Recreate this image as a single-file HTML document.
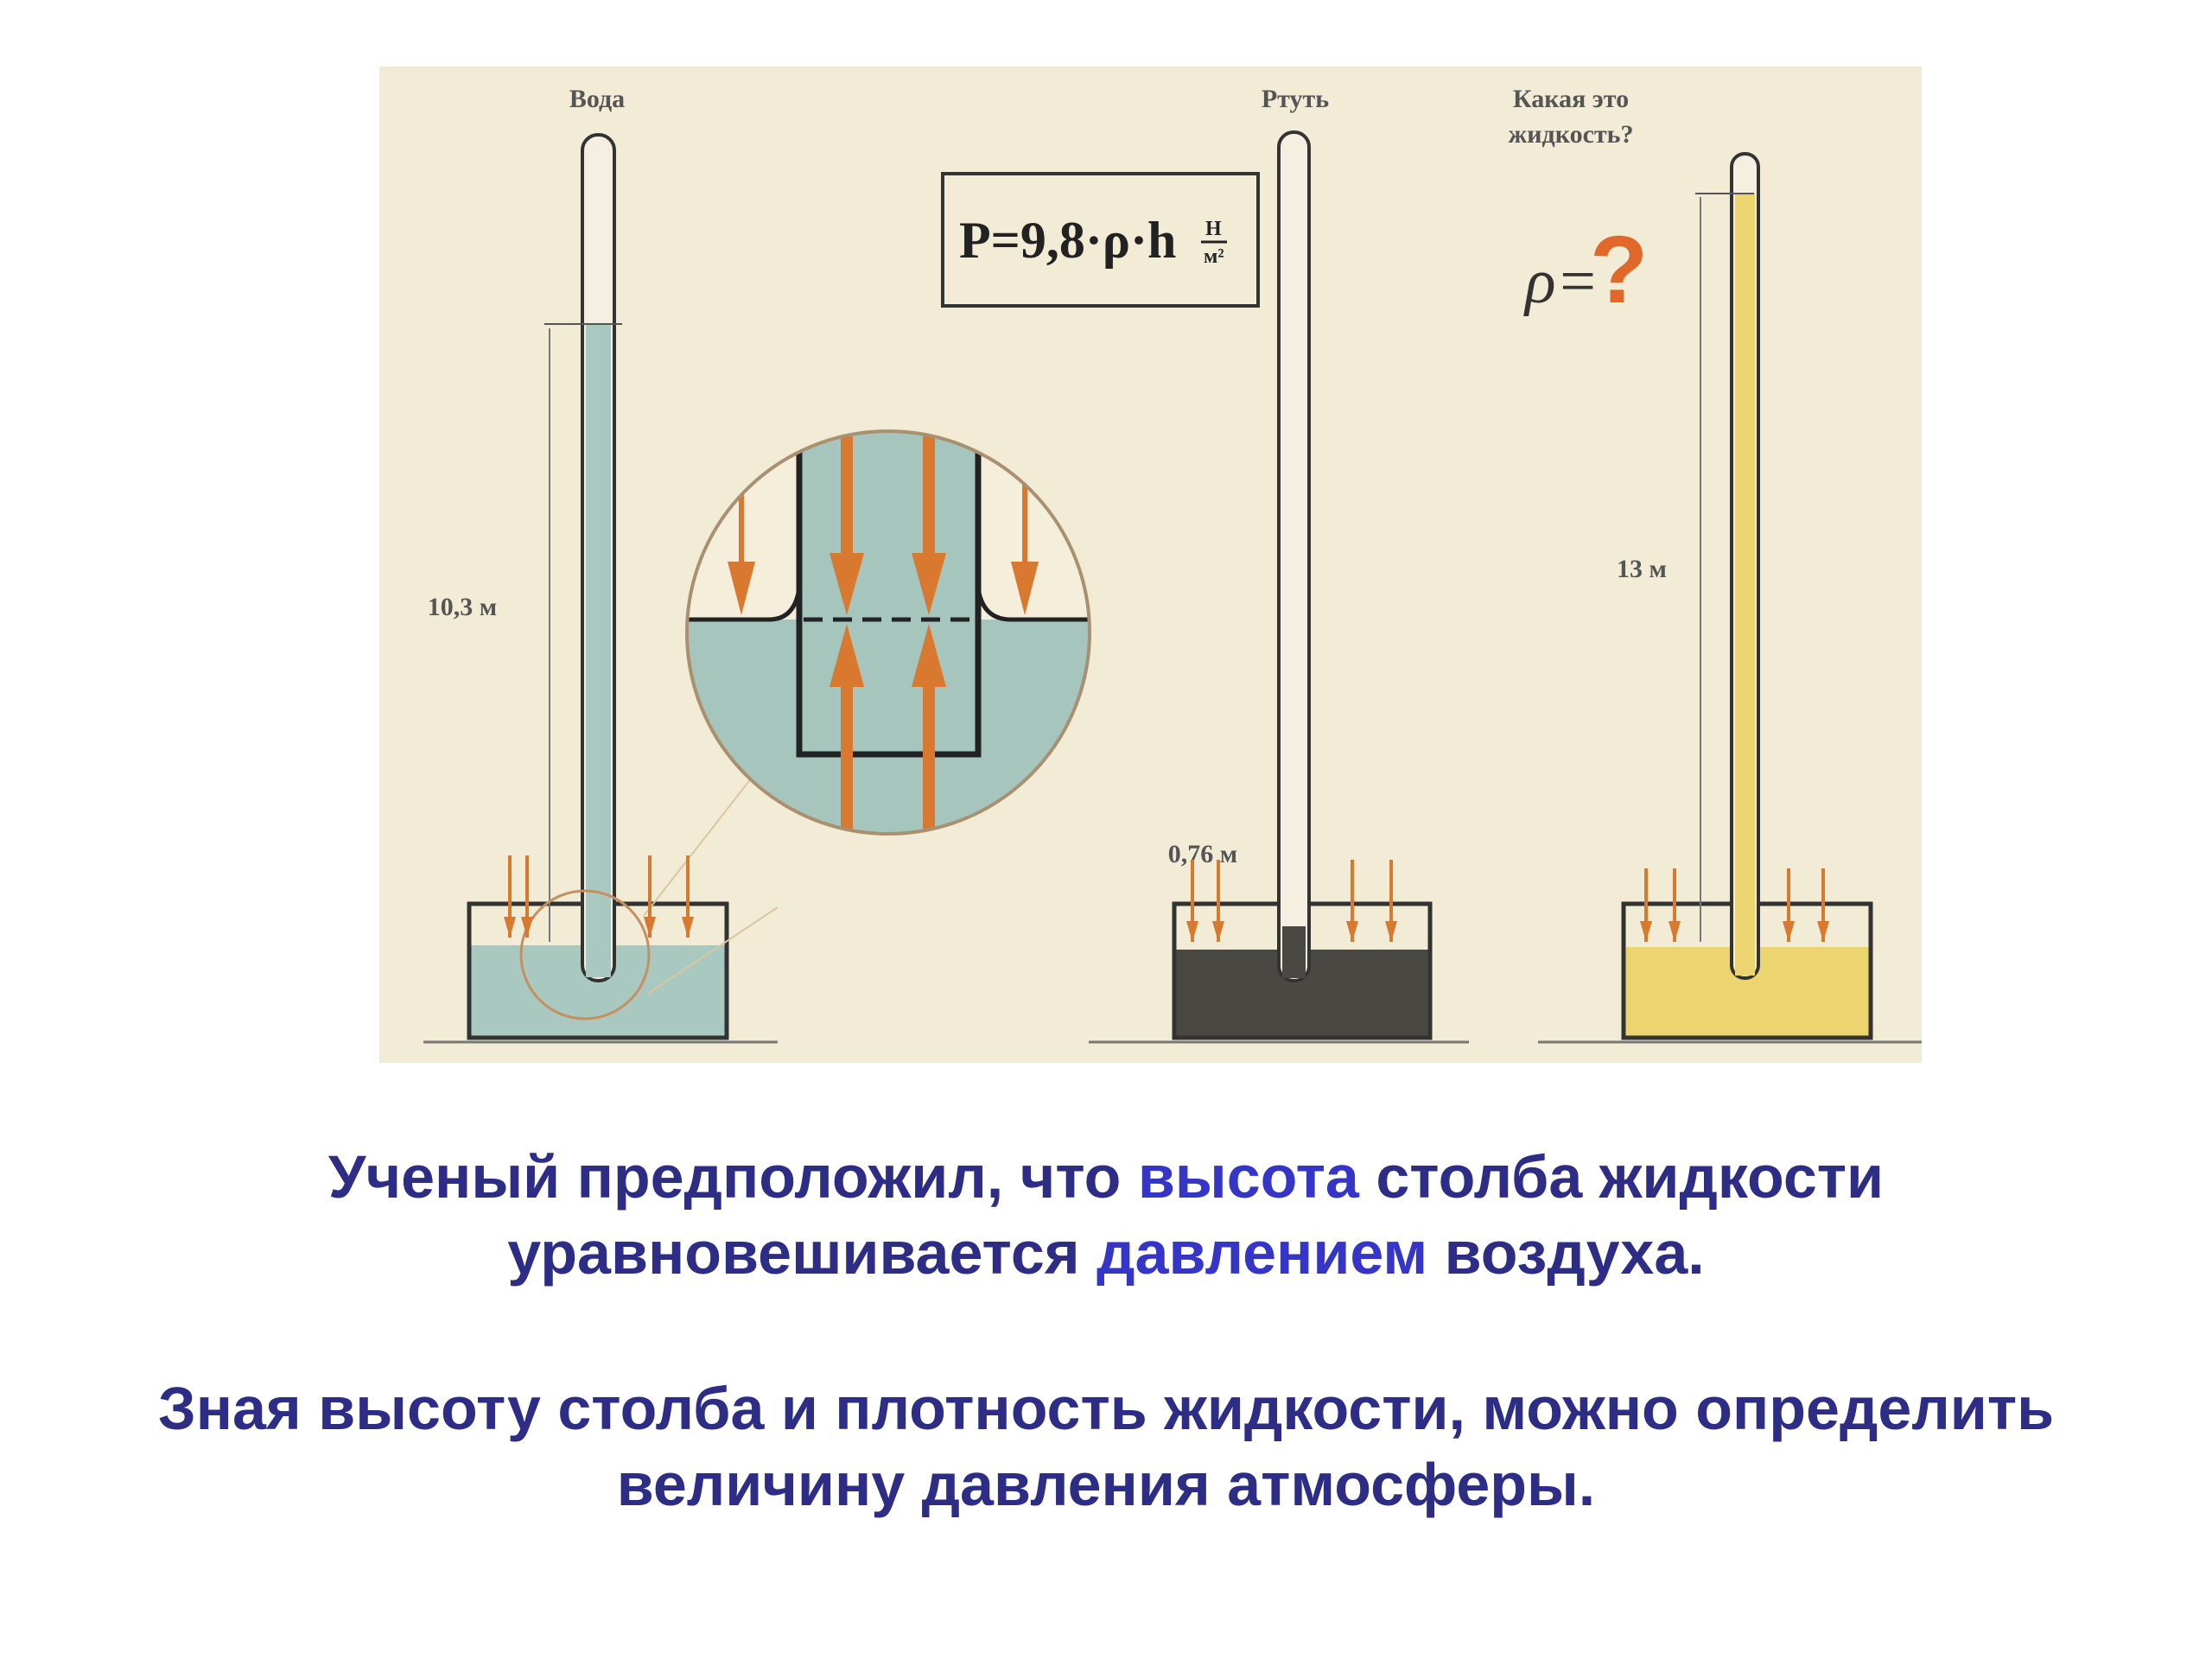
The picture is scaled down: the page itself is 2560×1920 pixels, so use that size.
<!DOCTYPE html>
<html><head><meta charset="utf-8"><style>
html,body{margin:0;padding:0;background:#fff;width:2560px;height:1920px;overflow:hidden}
svg{position:absolute;left:0;top:0}
.t{position:absolute;left:0;width:2560px;text-align:center;font-family:"Liberation Sans",Arial,sans-serif;font-weight:bold;font-size:70px;color:#2d2d86;line-height:88px}
.b{color:#3535c8}
</style></head><body>
<svg width="2560" height="1920" viewBox="0 0 2560 1920">
<defs>
<marker id="ah" markerWidth="24" markerHeight="14" refX="24" refY="7" orient="auto" markerUnits="userSpaceOnUse" viewBox="0 0 24 14"><path d="M0,0 L24,7 L0,14 Z" fill="#d9782f"/></marker>
<clipPath id="cc"><circle cx="1028" cy="732" r="233"/></clipPath>
</defs>
<rect x="439" y="77" width="1785" height="1153" fill="#f2ebd5"/>
<g font-family="Liberation Serif,serif" font-weight="bold" fill="#555" font-size="30">
<text x="691" y="124" text-anchor="middle">Вода</text>
<text x="1499" y="124" text-anchor="middle">Ртуть</text>
<text x="1818" y="124" text-anchor="middle">Какая это</text>
<text x="1818" y="165" text-anchor="middle">жидкость?</text>
<text x="535" y="712" text-anchor="middle">10,3 м</text>
<text x="1392" y="998" text-anchor="middle">0,76 м</text>
<text x="1900" y="668" text-anchor="middle">13 м</text>
</g>
<rect x="1091" y="201" width="365" height="153" fill="none" stroke="#333" stroke-width="4"/>
<text x="1110" y="298" font-family="Liberation Serif,serif" font-weight="bold" font-size="60" fill="#222">P=9,8·ρ·h</text>
<text x="1395" y="272" font-family="Liberation Serif,serif" font-weight="bold" font-size="24" fill="#222">Н</text>
<line x1="1390" y1="280" x2="1420" y2="280" stroke="#222" stroke-width="3"/>
<text x="1393" y="304" font-family="Liberation Serif,serif" font-weight="bold" font-size="24" fill="#222">м²</text>
<text x="1765" y="350" font-family="Liberation Serif,serif" font-style="italic" font-size="74" fill="#333">ρ=</text>
<text x="1840" y="350" font-family="Liberation Sans,sans-serif" font-weight="bold" font-size="110" fill="#e0682a">?</text>
<g stroke="#777" stroke-width="3">
<line x1="490" y1="1206" x2="900" y2="1206"/><line x1="1260" y1="1206" x2="1700" y2="1206"/><line x1="1780" y1="1206" x2="2224" y2="1206"/>
</g>
<rect x="543" y="1094" width="298" height="107" fill="#a8c8c0"/>
<rect x="543" y="1046" width="298" height="155" fill="none" stroke="#333" stroke-width="5"/>
<rect x="674" y="156" width="37" height="979" rx="18" fill="#f4efe0" stroke="#333" stroke-width="4"/>
<rect x="678" y="375" width="29" height="756" fill="#a8c8c0"/>
<line x1="630" y1="375" x2="720" y2="375" stroke="#555" stroke-width="2"/>
<line x1="636" y1="380" x2="636" y2="1090" stroke="#777" stroke-width="2"/>
<circle cx="677" cy="1105" r="74" fill="none" stroke="#c59060" stroke-width="3"/>
<line x1="745" y1="1060" x2="870" y2="900" stroke="#d8c8a0" stroke-width="2"/>
<line x1="750" y1="1150" x2="900" y2="1050" stroke="#d8c8a0" stroke-width="2"/>
<g stroke="#d9782f" stroke-width="4" marker-end="url(#ah)">
<line x1="590" y1="990" x2="590" y2="1085"/><line x1="610" y1="990" x2="610" y2="1085"/>
<line x1="752" y1="990" x2="752" y2="1085"/><line x1="796" y1="990" x2="796" y2="1085"/>
</g>
<rect x="1359" y="1099" width="296" height="102" fill="#4a4843"/>
<rect x="1359" y="1046" width="296" height="155" fill="none" stroke="#333" stroke-width="5"/>
<rect x="1480" y="153" width="35" height="982" rx="17" fill="#f4efe0" stroke="#333" stroke-width="4"/>
<rect x="1484" y="1072" width="27" height="60" fill="#4a4843"/>
<g stroke="#d9782f" stroke-width="4" marker-end="url(#ah)">
<line x1="1380" y1="995" x2="1380" y2="1090"/><line x1="1410" y1="995" x2="1410" y2="1090"/>
<line x1="1565" y1="995" x2="1565" y2="1090"/><line x1="1610" y1="995" x2="1610" y2="1090"/>
</g>
<rect x="1879" y="1096" width="286" height="105" fill="#ecd570"/>
<rect x="1879" y="1046" width="286" height="155" fill="none" stroke="#333" stroke-width="5"/>
<rect x="2004" y="178" width="31" height="954" rx="15" fill="#f4efe0" stroke="#333" stroke-width="4"/>
<rect x="2008" y="224" width="23" height="905" fill="#ecd570"/>
<line x1="1962" y1="224" x2="2030" y2="224" stroke="#555" stroke-width="2"/>
<line x1="1968" y1="228" x2="1968" y2="1090" stroke="#777" stroke-width="2"/>
<g stroke="#d9782f" stroke-width="4" marker-end="url(#ah)">
<line x1="1905" y1="1005" x2="1905" y2="1090"/><line x1="1938" y1="1005" x2="1938" y2="1090"/>
<line x1="2070" y1="1005" x2="2070" y2="1090"/><line x1="2110" y1="1005" x2="2110" y2="1090"/>
</g>
<g clip-path="url(#cc)">
<rect x="780" y="480" width="520" height="520" fill="#f5eedb"/>
<rect x="780" y="717" width="520" height="300" fill="#a6c6bd"/>
<rect x="925" y="480" width="207" height="400" fill="#a6c6bd"/>
<path d="M780,717 L890,717 Q920,717 925,680" fill="none" stroke="#222" stroke-width="5"/>
<path d="M1300,717 L1170,717 Q1137,717 1132,680" fill="none" stroke="#222" stroke-width="5"/>
<path d="M925,505 L925,873 L1132,873 L1132,505" fill="none" stroke="#222" stroke-width="7"/>
<line x1="930" y1="717" x2="1128" y2="717" stroke="#222" stroke-width="5" stroke-dasharray="22,12"/>
<g fill="#d9782f">
<rect x="973" y="505" width="14" height="160"/><path d="M960,640 L1000,640 L980,712 Z"/>
<rect x="1068" y="505" width="14" height="160"/><path d="M1055,640 L1095,640 L1075,712 Z"/>
<rect x="973" y="790" width="14" height="220"/><path d="M960,795 L1000,795 L980,722 Z"/>
<rect x="1068" y="790" width="14" height="220"/><path d="M1055,795 L1095,795 L1075,722 Z"/>
<rect x="855" y="570" width="6" height="110"/><path d="M842,650 L874,650 L858,712 Z"/>
<rect x="1183" y="555" width="6" height="125"/><path d="M1170,650 L1202,650 L1186,712 Z"/>
</g>
</g>
<circle cx="1028" cy="732" r="233" fill="none" stroke="#a89070" stroke-width="4"/>
</svg>
<div class="t" style="top:1318px">Ученый предположил, что <span class="b">высота</span> столба жидкости<br>уравновешивается <span class="b">давлением</span> воздуха.</div>
<div class="t" style="top:1586px">Зная высоту столба и плотность жидкости, можно определить<br>величину давления атмосферы.</div>
</body></html>
